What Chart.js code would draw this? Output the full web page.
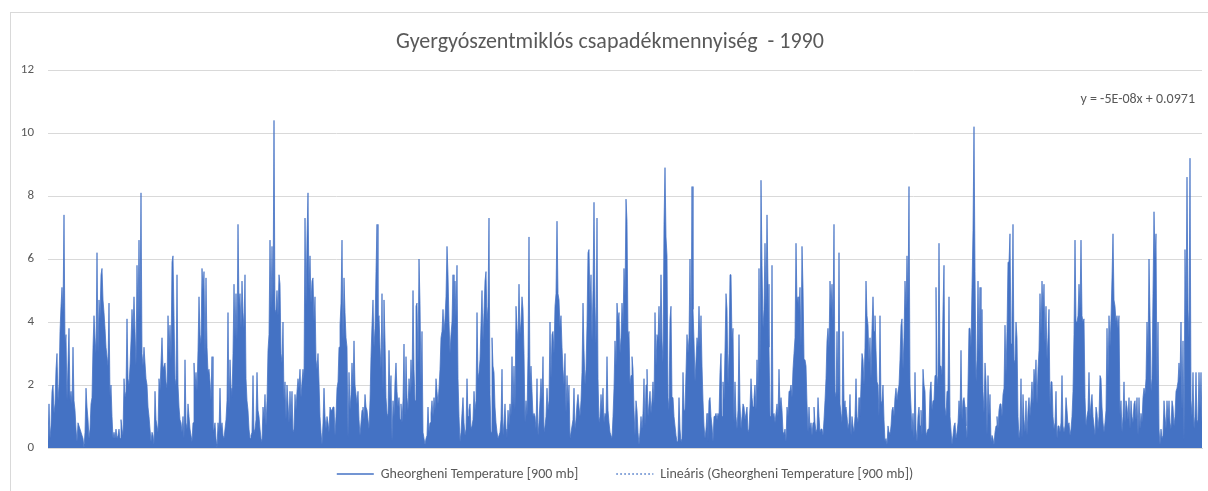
<!DOCTYPE html>
<html>
<head>
<meta charset="utf-8">
<title>Gyergyószentmiklós csapadékmennyiség - 1990</title>
<script src="https://cdn.jsdelivr.net/npm/chart.js@4/dist/chart.umd.min.js"></script>
<style>
    html, body { margin: 0; padding: 0; background: #fff; overflow: hidden; }
    #wrap { position: relative; width: 1208px; height: 491px; }
    #frame { position: absolute; left: 10px; top: 12px; width: 1260px; height: 540px; border: 1px solid #d9d9d9; }
    #chart { position: absolute; left: 0; top: 0; }
</style>
</head>
<body>
<div id="wrap">
    <div id="frame"></div>
    <canvas id="chart" width="1208" height="491"></canvas>
</div>
<script>
const chartTitle = 'Gyergyószentmiklós csapadékmennyiség  - 1990';
const seriesNames = ['Gheorgheni Temperature [900 mb]', 'Lineáris (Gheorgheni Temperature [900 mb])'];
const trendEquation = 'y = -5E-08x + 0.0971';
const trendEnds = [0.0971, 0.0967];
const yRange = [0, 12, 2];

// one value per sample from left to right
const precip = [
    0.2,1.4,0.3,0.7,1.8,2.0,1.1,1.4,2.5,3.0,1.5,2.0,3.7,4.5,5.1,4.3,7.4,3.3,3.6,1.5,
    2.7,3.8,1.5,1.8,1.4,3.2,1.5,1.2,0.6,0.2,0.8,0.7,0.6,0.5,0.4,0.3,0.0,0.5,1.9,1.3,
    0.9,0.3,0.6,1.4,1.6,3.2,4.2,3.5,3.0,6.2,3.0,4.7,4.1,5.5,5.7,4.7,4.3,3.8,3.2,2.9,
    2.6,4.6,1.6,2.0,1.0,0.3,0.5,0.3,0.6,0.3,0.4,0.6,0.3,0.9,0.6,0.4,2.2,1.6,1.8,4.1,
    2.2,2.0,2.6,3.4,4.4,3.7,4.8,3.7,2.6,5.8,4.0,6.6,4.1,8.1,3.0,2.6,3.2,2.7,2.2,2.0,
    1.3,1.0,0.6,0.2,0.5,0.4,0.1,1.8,0.9,0.7,0.5,2.2,1.8,2.7,3.5,2.5,2.6,2.7,2.1,1.9,
    4.2,3.0,3.9,2.8,5.9,6.1,4.2,2.2,2.0,5.5,2.0,1.3,0.9,0.8,0.5,1.0,0.3,2.8,0.8,0.6,
    1.4,1.0,0.6,0.4,0.2,0.8,2.7,1.9,2.4,1.8,3.1,4.8,3.6,3.3,5.7,5.0,5.6,2.9,5.4,3.2,
    2.4,2.5,2.1,1.5,2.9,0.5,0.6,0.8,0.3,0.0,0.8,0.5,1.9,0.6,0.8,0.4,0.3,0.6,0.9,1.5,
    4.3,1.2,2.8,1.9,1.6,3.0,5.2,3.5,4.9,3.4,7.1,4.5,4.9,3.8,5.3,4.3,3.8,5.5,2.2,1.5,
    1.2,0.6,0.3,0.4,0.5,2.3,0.5,0.6,0.9,2.4,1.2,1.0,0.6,0.3,0.2,1.3,0.9,1.7,0.7,1.5,
    3.1,3.6,6.6,4.4,6.4,4.6,10.4,4.3,4.4,5.0,4.2,5.5,5.2,3.0,2.7,4.0,1.5,2.1,0.9,2.0,
    1.4,0.8,1.8,0.9,1.8,0.5,0.6,1.7,1.2,1.8,2.2,1.9,2.5,1.6,2.1,2.5,2.2,7.3,4.5,6.7,
    8.1,5.0,6.1,4.6,5.3,5.4,4.0,4.8,2.8,2.5,3.0,2.1,1.0,0.5,0.1,0.8,1.9,1.0,0.6,1.0,
    0.8,0.5,1.3,1.2,1.2,1.3,1.3,0.4,1.0,1.9,2.1,3.2,3.9,4.6,6.6,3.4,5.4,4.3,3.5,3.2,
    0.3,2.4,1.2,1.7,2.7,1.9,3.4,2.0,1.7,1.4,1.8,0.9,0.4,0.8,1.2,1.3,0.9,1.7,1.3,1.2,
    0.9,0.6,1.5,2.9,3.9,4.7,3.2,3.8,5.6,7.1,4.0,4.2,3.2,2.5,4.9,1.8,4.7,3.4,1.6,1.1,
    1.0,3.1,1.5,2.3,0.2,1.5,1.0,2.1,2.7,1.8,1.3,1.6,0.9,1.4,0.8,1.5,3.3,1.0,2.9,1.6,
    1.2,2.2,1.7,2.8,1.9,5.0,2.5,1.5,4.5,4.6,2.6,6.0,4.6,2.0,3.7,0.5,0.3,0.1,0.3,0.4,
    1.3,0.5,0.8,1.1,1.5,1.0,1.6,1.2,2.2,1.8,1.4,1.9,2.5,3.5,3.7,4.4,3.7,4.1,4.8,6.4,
    5.5,4.0,3.0,3.6,4.0,5.5,3.8,5.3,4.1,5.8,2.2,1.0,0.2,0.5,1.1,1.6,0.8,0.4,0.6,2.2,
    1.0,1.2,1.4,0.6,0.7,0.9,1.8,1.2,1.5,4.3,2.2,2.4,2.8,3.9,5.0,3.4,4.3,5.3,5.6,4.0,
    4.5,7.3,1.7,0.5,3.5,2.6,2.4,1.3,0.8,0.5,0.3,0.4,0.5,0.9,2.5,0.4,0.8,1.4,0.6,0.3,
    1.2,0.7,1.4,1.0,2.9,1.3,2.6,1.2,4.5,3.8,3.4,5.2,3.6,4.0,4.8,4.4,3.0,0.8,1.5,1.0,
    2.9,6.7,2.0,2.6,1.8,1.0,1.1,1.0,0.6,2.2,0.4,0.8,1.5,2.2,1.5,2.9,0.5,0.7,1.0,1.9,
    1.2,1.5,4.0,2.2,3.6,3.7,3.0,4.5,4.9,7.2,4.9,4.7,3.8,4.2,3.2,2.5,2.0,3.0,1.1,2.3,
    1.4,2.0,0.3,0.5,0.7,0.9,1.9,0.6,0.9,1.4,1.7,1.3,1.0,1.5,2.4,4.6,3.1,2.0,2.5,3.9,
    6.2,6.3,4.5,5.5,3.4,5.0,7.8,4.5,3.3,7.3,2.2,0.8,1.0,1.7,1.2,1.9,0.8,1.1,1.0,2.9,
    1.2,0.8,0.5,0.4,0.3,1.0,1.9,3.4,2.6,4.6,4.0,4.3,3.0,3.5,4.6,3.9,5.7,4.8,7.9,7.2,
    3.5,3.7,2.0,2.3,2.9,2.5,1.2,0.4,1.5,1.2,0.5,0.1,0.5,1.0,0.6,1.1,2.2,0.7,2.0,2.5,
    1.0,1.4,1.8,1.1,1.5,2.1,1.4,4.3,2.6,3.6,3.4,4.5,3.2,5.5,3.4,2.7,7.1,8.9,6.7,6.1,
    1.6,1.2,4.1,4.5,1.6,1.6,1.0,0.7,0.4,0.2,0.3,1.6,0.6,0.2,0.3,2.4,1.2,1.2,2.4,3.6,
    3.0,3.5,6.0,3.1,8.3,4.4,3.4,2.1,2.8,3.5,3.2,4.5,3.2,4.2,2.6,1.5,0.7,0.3,0.6,1.1,
    0.2,1.5,1.6,1.0,0.7,0.2,1.0,1.0,1.1,0.9,1.1,1.0,2.4,3.0,1.0,2.1,1.5,3.1,4.9,4.4,
    2.0,3.0,5.5,5.5,3.4,3.8,0.8,2.1,1.0,0.6,1.2,3.6,1.4,0.6,1.0,1.4,1.3,0.9,1.1,1.3,
    0.5,0.6,1.3,2.2,1.6,1.3,1.6,2.0,1.2,2.8,1.8,5.7,2.4,8.5,5.8,3.8,4.4,6.5,4.5,7.4,
    5.2,3.2,1.0,1.0,5.8,1.0,1.1,0.8,1.1,1.4,1.0,2.5,1.3,1.6,1.2,0.5,0.4,0.6,0.2,1.3,
    1.0,1.8,1.8,2.0,1.6,2.5,3.0,3.5,6.5,4.6,4.8,4.3,5.1,3.2,6.4,5.1,2.8,2.8,2.6,1.4,
    0.5,1.3,0.6,0.8,0.4,0.8,1.3,0.8,0.5,0.6,1.6,1.0,0.5,0.6,0.6,0.4,0.9,1.5,2.2,3.4,
    3.8,3.2,5.3,4.4,5.2,4.0,7.1,1.8,1.6,3.7,1.6,6.2,1.4,1.1,0.8,3.7,1.5,1.2,1.3,1.0,
    0.6,0.8,1.7,0.4,1.0,0.7,0.5,1.0,2.2,1.0,0.8,1.6,1.0,2.0,3.0,2.8,2.0,3.2,5.3,4.2,
    3.9,2.7,3.5,2.2,3.8,4.8,3.7,4.2,3.1,2.1,2.0,1.0,4.2,1.4,1.5,2.0,0.9,0.2,0.3,0.1,
    0.7,0.5,0.4,0.7,1.2,1.3,1.0,1.6,1.9,1.5,1.8,2.0,2.8,3.9,4.1,2.5,3.5,5.3,4.4,6.1,
    4.6,8.3,2.0,1.3,0.5,1.1,0.3,2.4,0.6,0.2,1.0,1.3,0.7,1.2,0.4,2.5,2.0,1.8,0.4,0.5,
    0.6,0.6,1.8,2.1,1.2,1.5,1.5,2.3,5.1,2.0,2.3,6.5,2.6,2.6,2.3,4.4,5.8,1.3,1.0,1.8,
    1.8,4.8,1.0,1.0,0.1,0.4,0.7,0.8,0.3,0.5,0.8,1.5,1.0,3.1,0.9,1.5,1.6,1.3,0.7,0.3,
    2.0,3.8,3.8,3.2,5.1,6.9,10.2,5.6,2.1,2.8,5.3,3.0,5.1,2.2,4.4,1.8,1.1,2.7,2.1,0.4,
    2.3,1.0,1.7,0.2,0.4,0.3,0.1,0.5,0.7,1.0,0.6,1.2,1.4,1.4,1.0,1.7,1.9,3.9,2.3,3.7,
    5.9,5.9,6.8,3.3,4.1,7.1,2.7,2.8,4.0,3.5,1.0,0.3,0.6,2.2,0.3,1.7,0.9,0.5,1.5,0.4,
    1.2,1.6,1.0,1.5,2.1,1.4,2.5,2.0,2.8,1.4,2.5,3.1,4.9,3.6,5.3,4.3,5.2,3.3,4.5,2.8,
    3.5,4.4,1.3,2.1,2.1,1.0,0.6,0.8,1.8,0.3,0.7,0.7,0.5,0.8,2.3,0.7,0.5,0.7,1.6,1.2,
    0.7,0.8,0.4,0.6,1.0,1.8,3.6,6.6,4.0,4.0,4.2,5.2,4.4,6.6,4.2,4.0,4.1,1.6,0.7,1.0,
    1.2,2.4,1.0,1.4,1.7,1.0,0.7,0.4,1.3,1.1,0.6,1.0,2.3,2.2,1.3,0.8,0.5,0.8,1.2,3.8,
    2.2,4.2,3.2,4.1,5.4,6.8,4.7,4.5,4.0,4.2,3.8,4.2,1.0,1.5,0.5,1.0,2.1,0.8,1.5,1.3,
    0.9,1.6,0.6,1.5,1.0,0.8,1.4,1.5,0.9,1.6,0.4,1.6,0.6,1.1,0.8,1.6,1.9,1.7,2.2,4.0,
    2.9,6.0,4.2,1.8,2.2,4.9,7.5,6.0,6.8,1.9,4.0,0.6,0.1,0.6,0.3,0.4,1.5,1.0,0.6,1.5,
    0.9,1.5,0.8,0.6,1.5,1.3,0.7,1.0,1.8,1.9,2.1,2.7,2.2,4.0,1.2,3.4,0.2,6.3,4.0,8.6,
    4.4,3.5,9.2,1.5,1.0,2.4,0.6,1.0,2.4,0.8,0.9,2.4,1.2,2.4,0.8
];

const samples = precip.map((v, i) => i);
const lastSample = samples[samples.length - 1];

const textColor = '#595959';
const gridColor = '#d9d9d9';
const blue = '#4472c4';
const fontFamily = 'Calibri, Carlito, "Liberation Sans", Arial, sans-serif';

// Excel puts the trend equation in the top right corner of the plot
const equationLabel = {
    id: 'equationLabel',
    afterDraw(chart) {
        const { ctx, chartArea } = chart;
        ctx.save();
        ctx.font = '14px ' + fontFamily;
        ctx.fillStyle = textColor;
        ctx.textAlign = 'right';
        ctx.textBaseline = 'middle';
        ctx.fillText(trendEquation, chartArea.right - 7, chartArea.top + 29);
        ctx.restore();
    }
};

new Chart(document.getElementById('chart'), {
    type: 'line',
    data: {
        labels: samples,
        datasets: [{
            label: seriesNames[0],
            data: precip,
            borderColor: blue,
            backgroundColor: blue,
            borderWidth: 0.75,
            fill: 'origin',
            pointRadius: 0,
            tension: 0
        }, {
            label: seriesNames[1],
            data: [{ x: 0, y: trendEnds[0] }, { x: lastSample, y: trendEnds[1] }],
            borderColor: blue,
            borderWidth: 1.5,
            borderDash: [1.5, 2.5],
            fill: false,
            pointRadius: 0
        }]
    },
    options: {
        responsive: false,
        animation: false,
        devicePixelRatio: 1,
        layout: { padding: { left: 18, right: 6, top: 8, bottom: 0 } },
        scales: {
            x: {
                type: 'linear',
                min: 0,
                max: lastSample,
                ticks: { display: false },
                grid: { display: false },
                border: { color: gridColor },
                afterFit: s => { s.height = 0; }
            },
            y: {
                min: yRange[0],
                max: yRange[1],
                ticks: {
                    stepSize: yRange[2],
                    padding: 14,
                    color: textColor,
                    font: { family: fontFamily, size: 13 }
                },
                grid: { color: gridColor, drawTicks: false },
                border: { display: false },
                afterFit: s => { s.width = 30; }
            }
        },
        plugins: {
            title: {
                display: true,
                text: chartTitle,
                color: textColor,
                font: { family: fontFamily, size: 22, weight: 'normal' },
                padding: { top: 20.8, bottom: 14.8 }
            },
            legend: {
                position: 'bottom',
                fullSize: false,
                labels: {
                    usePointStyle: true,
                    pointStyle: 'line',
                    pointStyleWidth: 37,
                    padding: 19,
                    color: textColor,
                    font: { family: fontFamily, size: 14 },
                    generateLabels(chart) {
                        const items = Chart.defaults.plugins.legend.labels.generateLabels(chart);
                        // wider gap between the two entries than the padding allows
                        items[0].text += '      ';
                        items.forEach((it, i) => {
                            const ds = chart.data.datasets[i];
                            it.lineWidth = 1.3;
                            it.strokeStyle = ds.borderColor;
                            it.lineDash = ds.borderDash || [];
                        });
                        return items;
                    }
                }
            },
            tooltip: { enabled: false }
        }
    },
    plugins: [equationLabel]
});
</script>
</body>
</html>
